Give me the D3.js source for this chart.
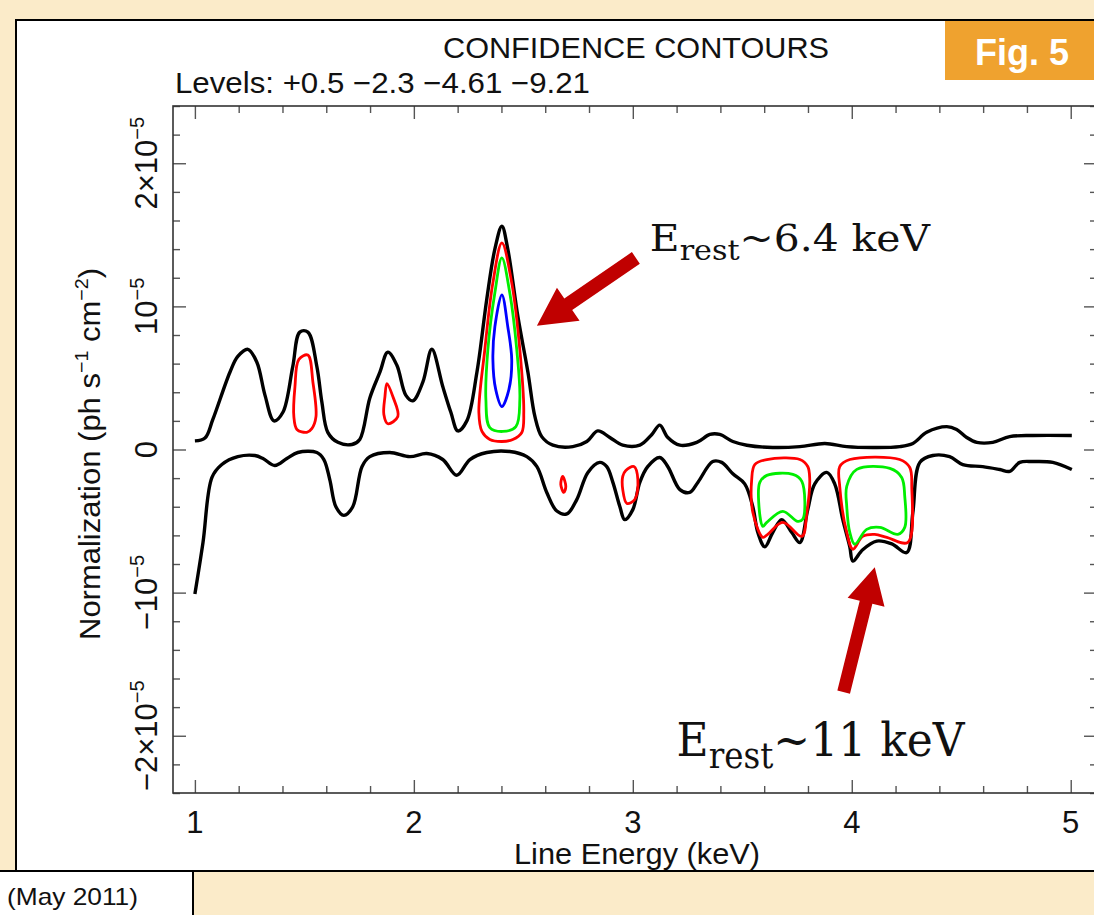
<!DOCTYPE html>
<html><head><meta charset="utf-8">
<script src="https://cdn.jsdelivr.net/npm/d3@7"></script>
<style>
html,body{margin:0;padding:0;background:#fbebc9;}
svg{display:block;}
</style></head><body>
<svg id="c" width="1094" height="915"></svg>
<script>
// ---- Data: line energy (keV) vs normalization (units of 1e-5 ph s^-1 cm^-2) ----
const upperBound = [
  [1.000,0.06],[1.046,0.08],[1.082,0.21],[1.160,0.54],[1.196,0.65],[1.242,0.70],[1.283,0.61],
  [1.320,0.38],[1.361,0.20],[1.402,0.26],[1.447,0.58],[1.479,0.82],[1.516,0.82],[1.557,0.58],
  [1.580,0.33],[1.607,0.12],[1.653,0.05],[1.717,0.035],[1.753,0.07],[1.799,0.36],[1.845,0.54],
  [1.881,0.68],[1.922,0.59],[1.963,0.38],[1.995,0.34],[2.041,0.47],[2.082,0.70],[2.132,0.44],
  [2.169,0.26],[2.201,0.13],[2.242,0.20],[2.288,0.54],[2.333,1.05],[2.370,1.40],[2.402,1.56],
  [2.429,1.40],[2.475,0.93],[2.521,0.54],[2.553,0.23],[2.584,0.09],[2.635,0.03],[2.726,0.02],
  [2.790,0.056],[2.840,0.13],[2.895,0.084],[2.954,0.03],[3.032,0.03],[3.087,0.105],[3.123,0.17],
  [3.160,0.084],[3.215,0.03],[3.292,0.05],[3.352,0.105],[3.397,0.105],[3.457,0.056],[3.521,0.03],
  [3.639,0.014],[3.763,0.02],[3.877,0.042],[3.977,0.02],[4.096,0.014],[4.219,0.02],[4.279,0.042],
  [4.342,0.12],[4.434,0.16],[4.479,0.14],[4.525,0.084],[4.571,0.05],[4.644,0.05],[4.721,0.09],
  [4.826,0.098],[5.005,0.098]
];
const lowerBound = [
  [1.000,-1.01],[1.037,-0.65],[1.078,-0.195],[1.123,-0.105],[1.196,-0.05],[1.274,-0.042],
  [1.311,-0.063],[1.365,-0.112],[1.420,-0.063],[1.470,-0.021],[1.557,-0.021],[1.589,-0.07],
  [1.616,-0.21],[1.644,-0.40],[1.680,-0.46],[1.721,-0.40],[1.763,-0.12],[1.799,-0.05],
  [1.890,-0.021],[1.982,-0.05],[2.059,-0.028],[2.132,-0.07],[2.196,-0.18],[2.256,-0.07],
  [2.333,-0.021],[2.438,-0.014],[2.516,-0.05],[2.562,-0.12],[2.607,-0.30],[2.653,-0.43],
  [2.699,-0.45],[2.744,-0.35],[2.795,-0.16],[2.849,-0.09],[2.881,-0.12],[2.909,-0.23],
  [2.941,-0.40],[2.963,-0.49],[3.000,-0.42],[3.032,-0.23],[3.068,-0.12],[3.123,-0.056],
  [3.160,-0.12],[3.215,-0.28],[3.260,-0.30],[3.297,-0.23],[3.365,-0.084],[3.406,-0.09],
  [3.457,-0.17],[3.511,-0.24],[3.548,-0.40],[3.571,-0.58],[3.603,-0.68],[3.639,-0.58],
  [3.680,-0.49],[3.726,-0.58],[3.763,-0.65],[3.799,-0.42],[3.831,-0.24],[3.886,-0.16],
  [3.922,-0.24],[3.959,-0.49],[3.991,-0.68],[4.005,-0.78],[4.050,-0.70],[4.114,-0.64],
  [4.183,-0.66],[4.251,-0.72],[4.279,-0.44],[4.311,-0.09],[4.370,-0.042],[4.447,-0.05],
  [4.507,-0.105],[4.598,-0.12],[4.676,-0.14],[4.721,-0.153],[4.767,-0.09],[4.826,-0.084],
  [4.918,-0.09],[5.005,-0.14]
];
// Closed confidence contours, one array per island
const redContours = [
  [[1.475,0.63],[1.516,0.66],[1.539,0.47],[1.553,0.23],[1.534,0.146],[1.511,0.12],[1.466,0.14],[1.452,0.23],[1.457,0.44]],
  [[1.877,0.46],[1.904,0.37],[1.927,0.23],[1.881,0.18],[1.863,0.244],[1.868,0.37]],
  [[2.402,1.444],[2.447,1.165],[2.484,0.697],[2.502,0.258],[2.493,0.119],[2.452,0.07],[2.402,0.056],[2.347,0.07],[2.311,0.126],[2.297,0.258],[2.324,0.697],[2.361,1.165]],
  [[2.680,-0.188],[2.694,-0.258],[2.685,-0.30],[2.671,-0.244]],
  [[2.968,-0.146],[3.005,-0.119],[3.023,-0.209],[3.009,-0.349],[2.973,-0.377],[2.954,-0.279],[2.954,-0.188]],
  [[3.557,-0.105],[3.612,-0.07],[3.763,-0.07],[3.799,-0.119],[3.808,-0.209],[3.795,-0.439],[3.772,-0.607],[3.685,-0.509],[3.616,-0.593],[3.594,-0.614],[3.548,-0.439],[3.543,-0.209]],
  [[3.945,-0.119],[3.991,-0.07],[4.219,-0.07],[4.265,-0.126],[4.274,-0.258],[4.256,-0.649],[4.160,-0.614],[4.105,-0.593],[4.050,-0.607],[4.005,-0.697],[3.977,-0.579],[3.945,-0.258]]
];
const greenContours = [
  [[2.402,1.339],[2.438,1.095],[2.470,0.697],[2.484,0.349],[2.466,0.16],[2.406,0.126],[2.347,0.153],[2.329,0.349],[2.338,0.697],[2.370,1.095]],
  [[3.580,-0.23],[3.612,-0.181],[3.731,-0.174],[3.772,-0.223],[3.776,-0.488],[3.753,-0.502],[3.685,-0.432],[3.612,-0.509],[3.594,-0.537],[3.575,-0.37]],
  [[3.977,-0.258],[4.023,-0.139],[4.174,-0.132],[4.228,-0.195],[4.242,-0.328],[4.242,-0.544],[4.210,-0.593],[4.128,-0.544],[4.068,-0.558],[4.014,-0.662],[3.991,-0.579],[3.977,-0.397]]
];
const blueContours = [
  [[2.402,1.081],[2.429,0.858],[2.447,0.628],[2.434,0.418],[2.402,0.30],[2.374,0.418],[2.361,0.628],[2.370,0.858]]
];

// Axis ticks and labels
const xMajorTicks = [1, 2, 3, 4, 5];
const xTickLabels = ["1", "2", "3", "4", "5"];
const yMajorTicks = [-2, -1, 0, 1, 2];
const yTickMain = ["\u22122\u00d710", "\u221210", "0", "10", "2\u00d710"];
const yTickSup  = ["\u22125", "\u22125", "", "\u22125", "\u22125"];

// Annotations: arrow tail/tip in data units
const arrows = [
  { tail: [3.014, 1.339], tip: [2.562, 0.865] },
  { tail: [3.963, -1.695], tip: [4.105, -0.823] }
];
const notes = [
  { at: [3.078, 1.39], rest: "rest", value: "~6.4 keV", size: 37, len: 280 },
  { at: [3.2, -2.14], rest: "rest", value: "~11 keV", size: 47, len: 288 }
];

// ---- Drawing ----
const svg = d3.select("#c");
const sans = "'Liberation Sans', Arial, Helvetica, sans-serif";

svg.append("rect").attr("width", 1094).attr("height", 915).attr("fill", "#fbebc9");
// white panel
svg.append("rect").attr("x", 16).attr("y", 20).attr("width", 1100).attr("height", 851)
  .attr("fill", "#fff").attr("stroke", "#000").attr("stroke-width", 2);
// date box at the bottom left
svg.append("rect").attr("x", -4).attr("y", 871).attr("width", 197).attr("height", 60)
  .attr("fill", "#fff").attr("stroke", "#000").attr("stroke-width", 2);
svg.append("text").attr("x", 7).attr("y", 905).attr("font-family", sans)
  .attr("font-size", 24).attr("fill", "#111")
  .attr("textLength", 131).attr("lengthAdjust", "spacingAndGlyphs").text("(May 2011)");
// figure badge
svg.append("rect").attr("x", 945).attr("y", 21).attr("width", 160).attr("height", 59).attr("fill", "#efa22f");
svg.append("text").attr("x", 1022).attr("y", 65).attr("text-anchor", "middle")
  .attr("font-family", sans).attr("font-weight", "bold").attr("font-size", 36)
  .attr("fill", "#fff").text("Fig. 5");

// plot frame and scales
const x = d3.scaleLinear().domain([0.9, 5.12]).range([173, 1097]);
const y = d3.scaleLinear().domain([-2.4, 2.4]).range([793, 106]);
const [x0, x1] = x.range(), [y0, y1] = y.range();

const xMinor = d3.range(1, 5.2, 0.2).map(v => +v.toFixed(2)).filter(v => !xMajorTicks.includes(v));
const yMinor = d3.range(-2.4, 2.41, 0.2).map(v => +v.toFixed(2)).filter(v => !yMajorTicks.includes(v));

function styleAxis(g) {
  g.select(".domain").remove();
  g.selectAll("line").attr("stroke", "#555").attr("stroke-width", 1.4);
  g.selectAll("text").remove();
}
const axes = svg.append("g");
axes.append("g").attr("transform", `translate(0,${y0})`).call(d3.axisBottom(x).tickValues(xMajorTicks).tickSize(-13)).call(styleAxis);
axes.append("g").attr("transform", `translate(0,${y0})`).call(d3.axisBottom(x).tickValues(xMinor).tickSize(-7)).call(styleAxis);
axes.append("g").attr("transform", `translate(0,${y1})`).call(d3.axisTop(x).tickValues(xMajorTicks).tickSize(-13)).call(styleAxis);
axes.append("g").attr("transform", `translate(0,${y1})`).call(d3.axisTop(x).tickValues(xMinor).tickSize(-7)).call(styleAxis);
axes.append("g").attr("transform", `translate(${x0},0)`).call(d3.axisLeft(y).tickValues(yMajorTicks).tickSize(-13)).call(styleAxis);
axes.append("g").attr("transform", `translate(${x0},0)`).call(d3.axisLeft(y).tickValues(yMinor).tickSize(-7)).call(styleAxis);
axes.append("g").attr("transform", `translate(${x1},0)`).call(d3.axisRight(y).tickValues(yMajorTicks).tickSize(-13)).call(styleAxis);
axes.append("g").attr("transform", `translate(${x1},0)`).call(d3.axisRight(y).tickValues(yMinor).tickSize(-7)).call(styleAxis);
svg.append("rect").attr("x", x0).attr("y", y1).attr("width", x1 - x0).attr("height", y0 - y1)
  .attr("fill", "none").attr("stroke", "#333").attr("stroke-width", 1.6);

// tick labels
svg.append("g").selectAll("text").data(xMajorTicks).join("text")
  .attr("x", d => x(d)).attr("y", 833).attr("text-anchor", "middle")
  .attr("font-family", sans).attr("font-size", 31).attr("fill", "#111")
  .text((d, i) => xTickLabels[i]);
const yl = svg.append("g").selectAll("text").data(yMajorTicks).join("text")
  .attr("transform", d => `translate(157,${y(d)}) rotate(-90)`).attr("text-anchor", "middle")
  .attr("font-family", sans).attr("font-size", 31).attr("fill", "#111");
yl.append("tspan").text((d, i) => yTickMain[i]);
yl.append("tspan").attr("dy", -13).attr("font-size", 20).text((d, i) => yTickSup[i]);

// axis titles
svg.append("text").attr("x", 637).attr("y", 864).attr("text-anchor", "middle")
  .attr("font-family", sans).attr("font-size", 29).attr("fill", "#111")
  .attr("textLength", 246).attr("lengthAdjust", "spacingAndGlyphs").text("Line Energy (keV)");
const yt = svg.append("text").attr("transform", `translate(100,${454}) rotate(-90)`)
  .attr("text-anchor", "middle").attr("font-family", sans).attr("font-size", 30).attr("fill", "#111")
  .attr("textLength", 372).attr("lengthAdjust", "spacingAndGlyphs");
yt.append("tspan").text("Normalization (ph s");
yt.append("tspan").attr("dy", -12).attr("font-size", 19).text("\u22121");
yt.append("tspan").attr("dy", 12).text(" cm");
yt.append("tspan").attr("dy", -12).attr("font-size", 19).text("\u22122");
yt.append("tspan").attr("dy", 12).text(")");

// titles
svg.append("text").attr("x", 636).attr("y", 58).attr("text-anchor", "middle")
  .attr("font-family", sans).attr("font-size", 30).attr("fill", "#111")
  .attr("textLength", 386).attr("lengthAdjust", "spacingAndGlyphs").text("CONFIDENCE CONTOURS");
svg.append("text").attr("x", 175).attr("y", 93)
  .attr("font-family", sans).attr("font-size", 29).attr("fill", "#111")
  .attr("textLength", 415).attr("lengthAdjust", "spacingAndGlyphs")
  .text("Levels: +0.5 \u22122.3 \u22124.61 \u22129.21");

// data curves
svg.append("clipPath").attr("id", "plotclip").append("rect")
  .attr("x", x0).attr("y", y1).attr("width", x1 - x0).attr("height", y0 - y1);
const plot = svg.append("g").attr("clip-path", "url(#plotclip)");
const open = d3.line().x(d => x(d[0])).y(d => y(d[1])).curve(d3.curveCatmullRom.alpha(0.5));
const closed = d3.line().x(d => x(d[0])).y(d => y(d[1])).curve(d3.curveCatmullRomClosed.alpha(0.5));

[upperBound, lowerBound].forEach(s => plot.append("path").attr("d", open(s))
  .attr("fill", "none").attr("stroke", "#000").attr("stroke-width", 3.4).attr("stroke-linejoin", "round"));
const groups = [[redContours, "#ff0000"], [greenContours, "#00ee00"], [blueContours, "#0000ff"]];
groups.forEach(([set, col]) => set.forEach(c => plot.append("path").attr("d", closed(c))
  .attr("fill", "none").attr("stroke", col).attr("stroke-width", 2.8).attr("stroke-linejoin", "round")));

// annotation arrows
function arrowPath(a, shaft, headW, headL) {
  const tx = x(a.tail[0]), ty = y(a.tail[1]), px = x(a.tip[0]), py = y(a.tip[1]);
  const L = Math.hypot(px - tx, py - ty), ux = (px - tx) / L, uy = (py - ty) / L;
  const nx = -uy, ny = ux;
  const bx = px - ux * headL, by = py - uy * headL;
  const pts = [
    [tx + nx * shaft / 2, ty + ny * shaft / 2], [bx + nx * shaft / 2, by + ny * shaft / 2],
    [bx + nx * headW / 2, by + ny * headW / 2], [px, py],
    [bx - nx * headW / 2, by - ny * headW / 2], [bx - nx * shaft / 2, by - ny * shaft / 2],
    [tx - nx * shaft / 2, ty - ny * shaft / 2]
  ];
  return "M" + pts.map(p => p.join(",")).join("L") + "Z";
}
svg.append("path").attr("d", arrowPath(arrows[0], 14, 40, 38)).attr("fill", "#c00000");
svg.append("path").attr("d", arrowPath(arrows[1], 13, 38, 36)).attr("fill", "#c00000");

notes.forEach(n => {
  const t = svg.append("text").attr("x", x(n.at[0])).attr("y", y(n.at[1]))
    .attr("font-family", "'DejaVu Serif', 'Liberation Serif', serif").attr("font-size", n.size)
    .attr("fill", "#111").attr("textLength", n.len).attr("lengthAdjust", "spacingAndGlyphs");
  t.append("tspan").text("E");
  t.append("tspan").attr("dy", n.size * 0.26).attr("font-size", n.size * 0.74).text(n.rest);
  t.append("tspan").attr("dy", -n.size * 0.26).text(n.value);
});
</script></body></html>
